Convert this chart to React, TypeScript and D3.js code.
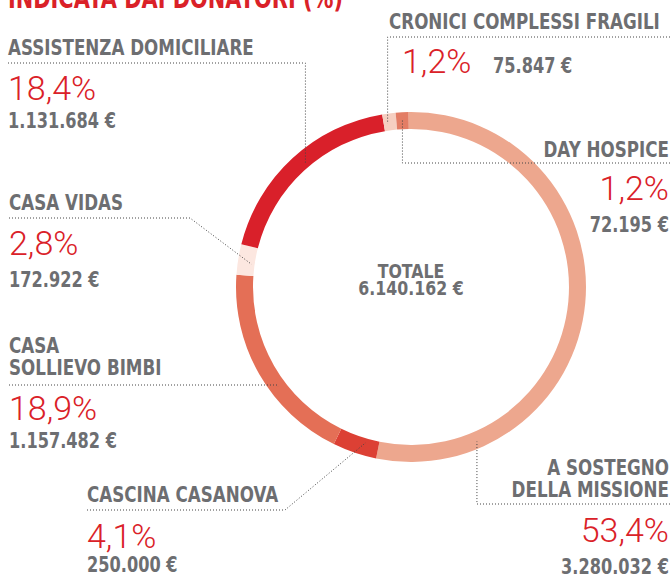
import React, { useLayoutEffect, useRef } from "react";
import * as d3 from "d3";

// ---- data ----
const categories = [
  "A SOSTEGNO DELLA MISSIONE",
  "CASCINA CASANOVA",
  "CASA SOLLIEVO BIMBI",
  "CASA VIDAS",
  "ASSISTENZA DOMICILIARE",
  "CRONICI COMPLESSI FRAGILI",
  "DAY HOSPICE",
];
const nameLines = [
  ["A SOSTEGNO", "DELLA MISSIONE"],
  ["CASCINA CASANOVA"],
  ["CASA", "SOLLIEVO BIMBI"],
  ["CASA VIDAS"],
  ["ASSISTENZA DOMICILIARE"],
  ["CRONICI COMPLESSI FRAGILI"],
  ["DAY HOSPICE"],
];
const amounts = [3280032, 250000, 1157482, 172922, 1131684, 75847, 72195];
const colors = ["#EDA78E", "#DC4034", "#E46F56", "#FCE7E0", "#D9202A", "#F6CFC1", "#E37D65"];
const title = "INDICATA DAI DONATORI (%)";
const totalLabel = "TOTALE";

// ---- layout (annotations) ----
type Lay = {
  anchor: "start" | "end";
  x: number;
  names: number[];
  lineY: number;
  lineFrom: number | null;
  lineTo: number | null;
  elbow: number | null;
  frac: number;
  r: number;
  pctY: number;
  pctX?: number;
  amtY: number;
  amtX?: number;
};
const layout: Lay[] = [
  { anchor: "end", x: 669, names: [475, 497], lineY: 504, lineFrom: null, lineTo: 670, elbow: null, frac: 0.82, r: 168, pctY: 542, amtY: 574 },
  { anchor: "start", x: 87, names: [502], lineY: 510, lineFrom: 87, lineTo: 285, elbow: 285, frac: 0.32, r: 162, pctY: 548, amtY: 572 },
  { anchor: "start", x: 9, names: [353, 375], lineY: 385, lineFrom: 9, lineTo: null, elbow: null, frac: 0.4, r: 166, pctY: 420, amtY: 448 },
  { anchor: "start", x: 9, names: [210], lineY: 218, lineFrom: 9, lineTo: 190, elbow: 190, frac: 0.4, r: 161, pctY: 255, amtY: 287 },
  { anchor: "start", x: 8, names: [55], lineY: 63, lineFrom: 8, lineTo: null, elbow: null, frac: 0.53, r: 162, pctY: 100, amtY: 128 },
  { anchor: "start", x: 389, names: [29], lineY: 37, lineFrom: null, lineTo: 670, elbow: null, frac: 0.3, r: 165, pctY: 73, pctX: 402, amtY: 73, amtX: 493 },
  { anchor: "end", x: 669, names: [157], lineY: 163, lineFrom: null, lineTo: 670, elbow: null, frac: 0.5, r: 168, pctY: 200, amtY: 232 },
];

const W = 670;
const H = 575;
const cx = 411;
const cy = 287;
const rOuter = 175;
const rInner = 158;
const startOffset = (-0.8 * Math.PI) / 180;

const itLocale = d3.formatLocale({ decimal: ",", thousands: ".", grouping: [3], currency: ["", " €"] });
const fmtAmt = (v: number) => itLocale.format(",")(v) + " €";
const fmtPct = itLocale.format(".1%");

const BOLD = "'DejaVu Sans', sans-serif";
const LIGHT = "Roboto, 'Open Sans', sans-serif";
const GRAY = "#6D6E71";
const RED = "#DA2128";

// condensed bold text: natural width compressed horizontally by sx
function CText(props: { x: number; y: number; anchor?: "start" | "middle" | "end"; size: number; sx: number; fill: string; children: React.ReactNode }) {
  const { x, y, anchor = "start", size, sx, fill, children } = props;
  const ref = useRef<SVGTextElement>(null);
  useLayoutEffect(() => {
    const el = ref.current;
    if (!el) return;
    el.removeAttribute("textLength");
    const len = el.getComputedTextLength();
    if (len > 0) {
      el.setAttribute("textLength", String(len * sx));
      el.setAttribute("lengthAdjust", "spacingAndGlyphs");
    }
  });
  return (
    <text ref={ref} x={x} y={y} textAnchor={anchor} fill={fill} fontFamily={BOLD} fontWeight={700} fontSize={size}>
      {children}
    </text>
  );
}

export default function App() {
  const total = d3.sum(amounts);
  const pie = d3
    .pie<number>()
    .sort(null)
    .value((d) => d)
    .startAngle(startOffset)
    .endAngle(startOffset + 2 * Math.PI);
  const arcs = pie(amounts);
  const arc = d3.arc<d3.PieArcDatum<number>>().innerRadius(rInner).outerRadius(rOuter);

  const ringPoint = (i: number) => {
    const a = arcs[i];
    const ang = a.startAngle + layout[i].frac * (a.endAngle - a.startAngle);
    const r = layout[i].r;
    return [cx + r * Math.sin(ang), cy - r * Math.cos(ang)];
  };

  return (
    <svg width={W} height={H} style={{ position: "absolute", left: 0, top: 0 }}>
      <rect width={W} height={H} fill="#fff" />
      <text x={8} y={8} fill={RED} fontFamily={BOLD} fontWeight={700} fontSize={28} textLength={335} lengthAdjust="spacingAndGlyphs">
        {title}
      </text>
      <g transform={`translate(${cx},${cy})`}>
        {arcs.map((a, i) => (
          <path key={i} d={arc(a) || ""} fill={colors[i]} />
        ))}
      </g>
      {layout.map((l, i) => {
        const [px, py] = ringPoint(i);
        const from = l.lineFrom === null ? px : l.lineFrom;
        const to = l.lineTo === null ? px : l.lineTo;
        let d = "";
        if (l.elbow !== null) {
          d = `M${from},${l.lineY}H${l.elbow}L${px},${py}`;
        } else if (l.lineFrom === null) {
          d = `M${to},${l.lineY}H${px}V${py}`;
        } else {
          d = `M${from},${l.lineY}H${px}V${py}`;
        }
        return <path key={i} d={d} fill="none" stroke="#444" strokeWidth={1} strokeDasharray="1,2" />;
      })}
      {layout.map((l, i) => (
        <g key={i}>
          {nameLines[i].map((t, j) => (
            <CText key={j} x={l.x} y={l.names[j]} anchor={l.anchor} size={22} sx={0.76} fill={GRAY}>
              {t}
            </CText>
          ))}
          <text x={l.pctX ?? l.x} y={l.pctY} textAnchor={l.anchor} fill={RED} fontFamily={LIGHT} fontWeight={300} fontSize={34}>
            {fmtPct(amounts[i] / total)}
          </text>
          <CText x={l.amtX ?? l.x} y={l.amtY} anchor={l.anchor} size={21} sx={0.77} fill={GRAY}>
            {fmtAmt(amounts[i])}
          </CText>
        </g>
      ))}
      <CText x={cx} y={278} anchor="middle" size={19} sx={0.83} fill={GRAY}>
        {totalLabel}
      </CText>
      <CText x={cx} y={295} anchor="middle" size={19} sx={0.83} fill={GRAY}>
        {fmtAmt(total)}
      </CText>
    </svg>
  );
}
